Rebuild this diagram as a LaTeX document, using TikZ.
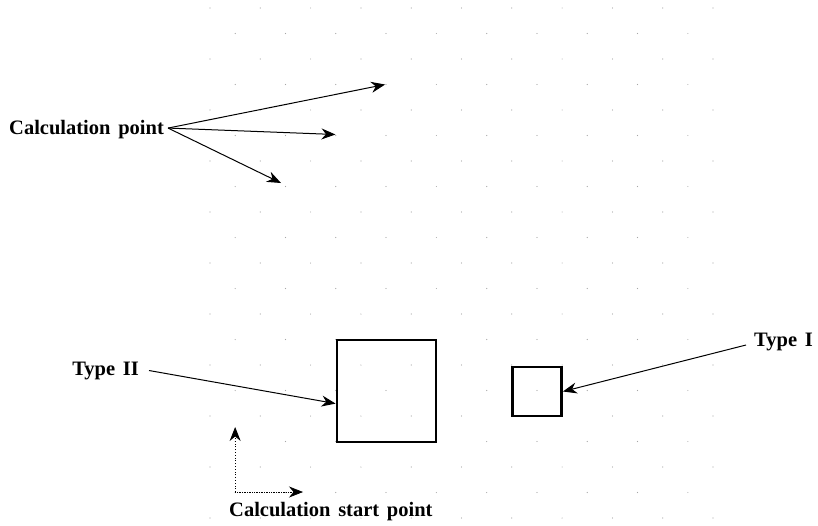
\documentclass[tikz,border=0pt]{standalone}
\usepackage{fontspec}
\setmainfont{Liberation Serif}[WordSpace=1.5]
\usetikzlibrary{arrows.meta,calc}
\begin{document}
\begin{tikzpicture}[x=1pt,y=-1pt,
  lbl/.style={font=\fontsize{20.5}{24}\selectfont\bfseries, inner sep=0pt},
  ptr/.style={line width=1pt, -{Stealth[length=14pt,width=11pt]}},
  cell/.style={draw, line width=2.8pt, inner sep=0pt},
  gdot/.style={fill=black!35}]
\useasboundingbox (0,0) rectangle (818,525);

% staggered lattice of grid points
\foreach \i in {0,...,10}
  \foreach \k in {0,...,10}
    \fill[gdot] (210+50.3*\i, 8+51*\k) circle (0.6pt);
\foreach \i in {0,...,9}
  \foreach \k in {0,...,9}
    \fill[gdot] (235.15+50.3*\i, 33.5+51*\k) circle (0.6pt);

% labels
\node[lbl, anchor=base west] (cp) at (9,134) {Calculation point};
\node[lbl, anchor=base east] (t2) at (139,375) {Type II};
\node[lbl, anchor=base east] (t1) at (813,346) {Type I};
\node[lbl, anchor=base west] (st) at (229,516) {Calculation start point};

% cells of the two types
\node[cell, minimum width=99pt, minimum height=102pt] (big) at (386.5,391) {};
\node[cell, minimum width=49pt, minimum height=49pt] (small) at (537,391.5) {};

% calculation points
\coordinate (cpA) at (385.1,84.5);
\coordinate (cpB) at (335.45,134.5);
\coordinate (cpC) at (281,183);
\coordinate (cpO) at ($(cp.east)+(4,-1)$);
\draw[ptr] (cpO) -- (cpA);
\draw[ptr] (cpO) -- (cpB);
\draw[ptr] (cpO) -- (cpC);

% type pointers
\draw[ptr] ($(t2.east)+(10,0)$) -- ($(big.north west)!0.62!(big.south west)$);
\draw[ptr] ($(t1.west)+(-8,3.5)$) -- (small.east);

% start point and directions
\coordinate (sp) at (235.15,492);
\coordinate (spUp) at (235.15,427);
\coordinate (spRight) at (303,492);
\draw[ptr, line width=0.8pt, dotted] (sp) -- (spUp);
\draw[ptr, line width=0.7pt, densely dotted] (sp) -- (spRight);
\end{tikzpicture}
\end{document}
